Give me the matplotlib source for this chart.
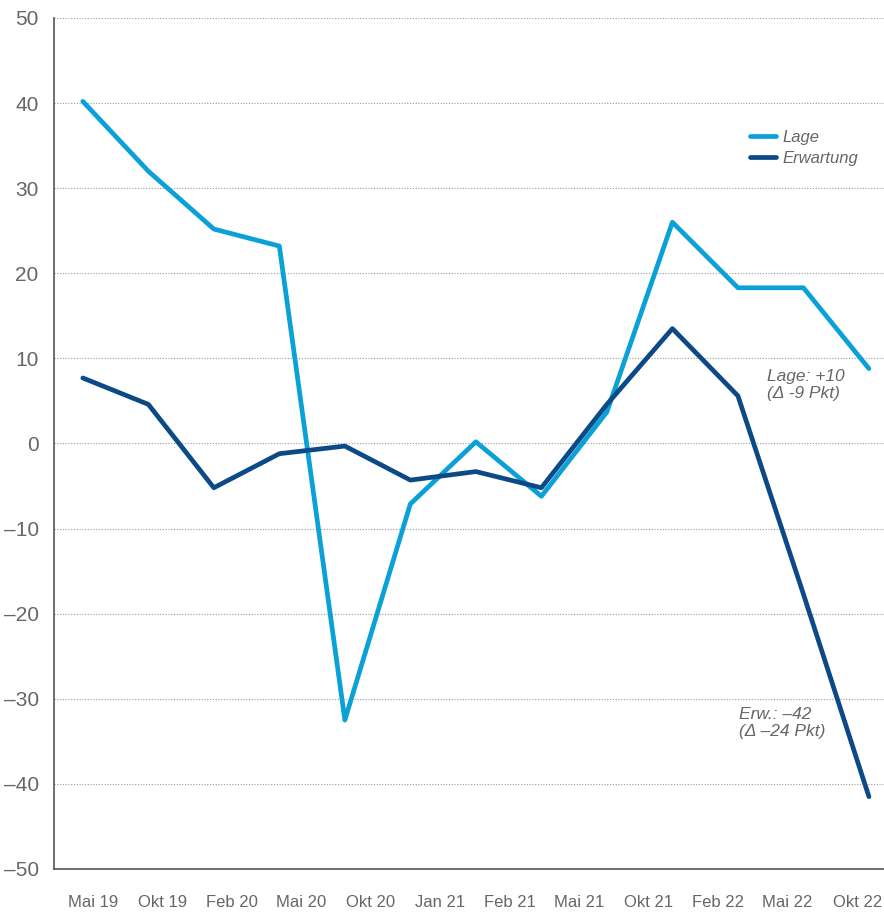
import matplotlib
matplotlib.use("Agg")
import matplotlib.pyplot as plt
import numpy as np

plt.rcParams['font.family'] = ['Liberation Sans Narrow', 'Liberation Sans', 'DejaVu Sans']

# Data
labels = ['Mai 19', 'Okt 19', 'Feb 20', 'Mai 20', 'Okt 20', 'Jan 21', 'Feb 21',
          'Mai 21', 'Okt 21', 'Feb 22', 'Mai 22', 'Okt 22']
lage = [40.2, 32.0, 25.2, 23.2, -32.5, -7.1, 0.2, -6.2, 3.7, 26.0, 18.3, 18.3, 8.8]
erwartung = [7.7, 4.6, -5.2, -1.2, -0.3, -4.3, -3.3, -5.2, 4.6, 13.5, 5.6, -17.7, -41.5]

c_lage = '#0aa0d8'
c_erw = '#0b4a87'
grey = '#666666'

fig = plt.figure(figsize=(8.84, 9.14), dpi=100)
ax = fig.add_axes([54 / 884, 45 / 914, 830 / 884, 851 / 914])

x = np.arange(len(lage))
ax.plot(x, lage, color=c_lage, lw=3.4, solid_capstyle='round', solid_joinstyle='round', label='Lage', zorder=3)
ax.plot(x, erwartung, color=c_erw, lw=3.4, solid_capstyle='round', solid_joinstyle='round', label='Erwartung', zorder=3)

ax.set_xlim(-0.44, 12.23)
ax.set_ylim(-50, 50)
ax.set_yticks(np.arange(-50, 51, 10))
ax.set_yticklabels([str(v).replace('-', '\u2013') for v in range(-50, 51, 10)])
ax.set_xticks(np.linspace(0.15, 11.82, len(labels)))
ax.set_xticklabels(labels)

ax.yaxis.grid(True, color='#999999', ls=(0, (1, 1.5)), lw=0.8)
ax.set_axisbelow(True)
for s in ['top', 'right']:
    ax.spines[s].set_visible(False)
for s in ['left', 'bottom']:
    ax.spines[s].set_color('#555555')
    ax.spines[s].set_linewidth(1.2)

ax.tick_params(axis='y', length=0, pad=11, labelsize=15, labelcolor=grey)
ax.tick_params(axis='x', length=0, pad=19, labelsize=12, labelcolor=grey)

leg = ax.legend(loc='upper left', bbox_to_anchor=(0.82, 0.886), frameon=False,
                prop={'style': 'italic', 'size': 12}, handlelength=1.6,
                handletextpad=0.4, labelspacing=0.35, labelcolor=grey)

ax.text(10.44, 8.7, 'Lage: +10\n(\u0394 -9 Pkt)', fontsize=12.5, style='italic',
        color=grey, va='top', linespacing=1.15)
ax.text(10.02, -31.0, 'Erw.: \u201342\n(\u0394 \u201324 Pkt)', fontsize=12.5, style='italic',
        color=grey, va='top', linespacing=1.15)

fig.savefig('out.png', dpi=100)
